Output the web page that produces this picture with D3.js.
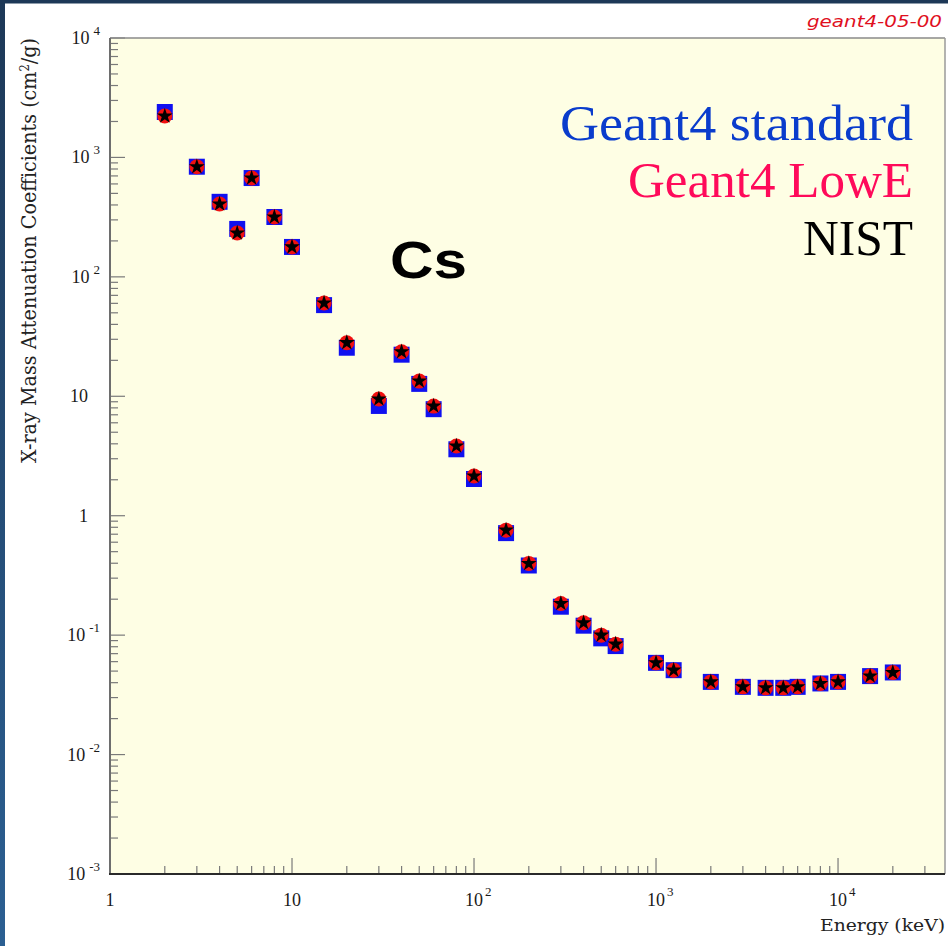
<!DOCTYPE html>
<html><head><meta charset="utf-8">
<script src="https://cdn.jsdelivr.net/npm/d3@7"></script>
<style>html,body{margin:0;padding:0;background:#fff;overflow:hidden}svg{display:block}</style>
</head><body>
<svg id="c" width="948" height="946"></svg>
<script>
// ---- data ----
const energy   = [2,3,4,5,6,8,10,15,20,30,40,50,60,80,100,150,200,300,400,500,600,1000,1250,2000,3000,4000,5000,6000,8000,10000,15000,20000];
const nist     = [2220,836,407,233,672,317,178,60.4,28.1,9.48,23.6,13.4,8.28,3.83,2.15,0.757,0.398,0.184,0.127,0.100,0.084,0.0586,0.0509,0.0406,0.0369,0.0362,0.0362,0.0369,0.0394,0.0406,0.0454,0.0487];
const lowE     = [2220,836,407,233,672,317,178,60.4,28.1,9.48,23.6,13.4,8.28,3.83,2.15,0.757,0.398,0.184,0.127,0.100,0.084,0.0586,0.0509,0.0406,0.0369,0.0362,0.0362,0.0369,0.0394,0.0406,0.0454,0.0487];
const standard = [2400,836,425,252,672,317,178,58.0,25.5,8.30,22.3,12.7,7.80,3.60,2.03,0.715,0.383,0.173,0.120,0.094,0.081,0.0586,0.0509,0.0406,0.0369,0.0362,0.0362,0.0369,0.0394,0.0406,0.0454,0.0487];

const yTickValues = [1e4,1e3,1e2,10,1,0.1,0.01,0.001];
const yTickBase   = ["10","10","10","10","1","10","10","10"];
const yTickExp    = ["4","3","2","","","-1","-2","-3"];
const xTickValues = [1,10,100,1000,10000];
const xTickBase   = ["1","10","10","10","10"];
const xTickExp    = ["","","2","3","4"];

const legendLabels = ["Geant4 standard","Geant4 LowE","NIST"];
const legendColors = ["#0a3ccc","#ff0a5a","#000000"];
const yDomain = [1e-3, 1e4];
const xDomain = [1, 38700];

// ---- layout ----
const L = 110, T = 38, R = 945, B = 874;
const svg = d3.select("#c");

const defs = svg.append("defs");
const g = defs.append("linearGradient").attr("id","edge").attr("x1",0).attr("y1",0).attr("x2",0).attr("y2",1);
g.append("stop").attr("offset","0%").attr("stop-color","#1d3857");
g.append("stop").attr("offset","100%").attr("stop-color","#2b5f92");

svg.append("rect").attr("width",948).attr("height",946).attr("fill","#ffffff");
svg.append("rect").attr("x",0).attr("y",0).attr("width",5).attr("height",946).attr("fill","url(#edge)");
svg.append("rect").attr("x",0).attr("y",0).attr("width",948).attr("height",3.5).attr("fill","#1d3857");

const x = d3.scaleLog().domain(xDomain).range([L, R]);
const y = d3.scaleLog().domain(yDomain).range([B, T]);

svg.append("rect").attr("x",L).attr("y",T).attr("width",R-L).attr("height",B-T).attr("fill","#fefee4");

// minor + major ticks
function minorTicks(lo, hi){
  const out=[];
  for(let d=Math.floor(Math.log10(lo)); d<=Math.ceil(Math.log10(hi)); d++){
    for(let k=2;k<=9;k++){ const v=k*Math.pow(10,d); if(v>lo && v<hi) out.push(v); }
  }
  return out;
}
const tickCol = "#7a7a7a";
svg.append("g").selectAll("line").data(minorTicks(yDomain[0],yDomain[1])).join("line")
  .attr("x1",L).attr("x2",L+8).attr("y1",d=>y(d)).attr("y2",d=>y(d))
  .attr("stroke",tickCol).attr("stroke-width",1.2);
svg.append("g").selectAll("line").data(yTickValues).join("line")
  .attr("x1",L).attr("x2",L+15).attr("y1",d=>y(d)).attr("y2",d=>y(d))
  .attr("stroke",tickCol).attr("stroke-width",1.2);
svg.append("g").selectAll("line").data(minorTicks(xDomain[0],xDomain[1])).join("line")
  .attr("x1",d=>x(d)).attr("x2",d=>x(d)).attr("y1",B).attr("y2",B-8)
  .attr("stroke",tickCol).attr("stroke-width",1.2);
svg.append("g").selectAll("line").data(xTickValues).join("line")
  .attr("x1",d=>x(d)).attr("x2",d=>x(d)).attr("y1",B).attr("y2",B-16)
  .attr("stroke",tickCol).attr("stroke-width",1.2);

// frame
svg.append("line").attr("x1",L).attr("x2",R).attr("y1",T).attr("y2",T).attr("stroke","#8a8a8a").attr("stroke-width",1.5);
svg.append("line").attr("x1",R).attr("x2",R).attr("y1",T).attr("y2",B).attr("stroke","#9a9a9a").attr("stroke-width",1.5);
svg.append("line").attr("x1",L).attr("x2",L).attr("y1",T).attr("y2",B+1).attr("stroke","#6e6e6e").attr("stroke-width",2);
svg.append("line").attr("x1",L-1).attr("x2",R).attr("y1",B).attr("y2",B).attr("stroke","#2a2a2a").attr("stroke-width",2);

// tick labels
const tickFont = "'Liberation Serif', serif";
yTickValues.forEach((v,i)=>{
  const yy = y(v) + 6;
  if(yTickExp[i]){
    const sup = svg.append("text").attr("x",100).attr("y",yy-9).attr("text-anchor","end")
      .attr("font-family",tickFont).attr("font-size",13).attr("fill","#1a1a1a").text(yTickExp[i]);
    const w = sup.node().getComputedTextLength();
    svg.append("text").attr("x",100-w-4).attr("y",yy).attr("text-anchor","end")
      .attr("font-family",tickFont).attr("font-size",18).attr("fill","#1a1a1a").text(yTickBase[i]);
  } else {
    svg.append("text").attr("x",88).attr("y",yy).attr("text-anchor","end")
      .attr("font-family",tickFont).attr("font-size",18).attr("fill","#1a1a1a").text(yTickBase[i]);
  }
});
xTickValues.forEach((v,i)=>{
  const xx = x(v);
  const base = svg.append("text").attr("x",xx).attr("y",906).attr("text-anchor","middle")
    .attr("font-family",tickFont).attr("font-size",18).attr("fill","#1a1a1a").text(xTickBase[i]);
  if(xTickExp[i]){
    const w = base.node().getComputedTextLength();
    svg.append("text").attr("x",xx+w/2+2).attr("y",896).attr("text-anchor","start")
      .attr("font-family",tickFont).attr("font-size",13).attr("fill","#1a1a1a").text(xTickExp[i]);
  }
});

// axis titles
svg.append("text").attr("x",945).attr("y",931).attr("text-anchor","end")
  .attr("font-family","'DejaVu Serif', serif").attr("font-size",16).attr("fill","#222")
  .attr("textLength",125).attr("lengthAdjust","spacingAndGlyphs").text("Energy (keV)");
const yt = svg.append("text").attr("transform","translate(36,250.5) rotate(-90)").attr("text-anchor","middle")
  .attr("font-family","'DejaVu Serif', serif").attr("font-size",20).attr("fill","#222")
  .attr("textLength",425).attr("lengthAdjust","spacingAndGlyphs");
yt.append("tspan").text("X-ray Mass Attenuation Coefficients (cm");
yt.append("tspan").attr("dy",-7).attr("font-size",12).text("2");
yt.append("tspan").attr("dy",7).text("/g)");

// version tag
svg.append("text").attr("x",942).attr("y",27).attr("text-anchor","end")
  .attr("font-family","'DejaVu Sans', sans-serif").attr("font-style","italic").attr("font-size",15)
  .attr("fill","#e0101e").attr("textLength",135).attr("lengthAdjust","spacingAndGlyphs").text("geant4-05-00");

// element label
svg.append("text").attr("x",390).attr("y",278)
  .attr("font-family","'Liberation Sans', Arial, sans-serif").attr("font-weight","bold").attr("font-size",52)
  .attr("fill","#000").attr("textLength",77).attr("lengthAdjust","spacingAndGlyphs").text("Cs");

// legend
const legW = [353, 285, 110];
const legY = [140, 197, 255];
legendLabels.forEach((t,i)=>{
  svg.append("text").attr("x",913).attr("y",legY[i]).attr("text-anchor","end")
    .attr("font-family","'Liberation Serif', serif").attr("font-size",51).attr("fill",legendColors[i])
    .attr("textLength",legW[i]).attr("lengthAdjust","spacingAndGlyphs").text(t);
});

// markers
const pts = energy.map((e,i)=>({e, std:standard[i], low:lowE[i], nist:nist[i]}));
const sq = d3.symbol().type(d3.symbolSquare).size(256);
const ci = d3.symbol().type(d3.symbolCircle).size(Math.PI*7.5*7.5);
const st = d3.symbol().type(d3.symbolStar).size(78);
svg.append("g").selectAll("path").data(pts).join("path")
  .attr("transform",d=>`translate(${x(d.e)},${y(d.std)})`).attr("d",sq).attr("fill","#1010f0");
svg.append("g").selectAll("path").data(pts).join("path")
  .attr("transform",d=>`translate(${x(d.e)},${y(d.low)})`).attr("d",ci).attr("fill","#f01010");
svg.append("g").selectAll("path").data(pts).join("path")
  .attr("transform",d=>`translate(${x(d.e)},${y(d.nist)})`).attr("d",st).attr("fill","#000");
</script>
</body></html>
